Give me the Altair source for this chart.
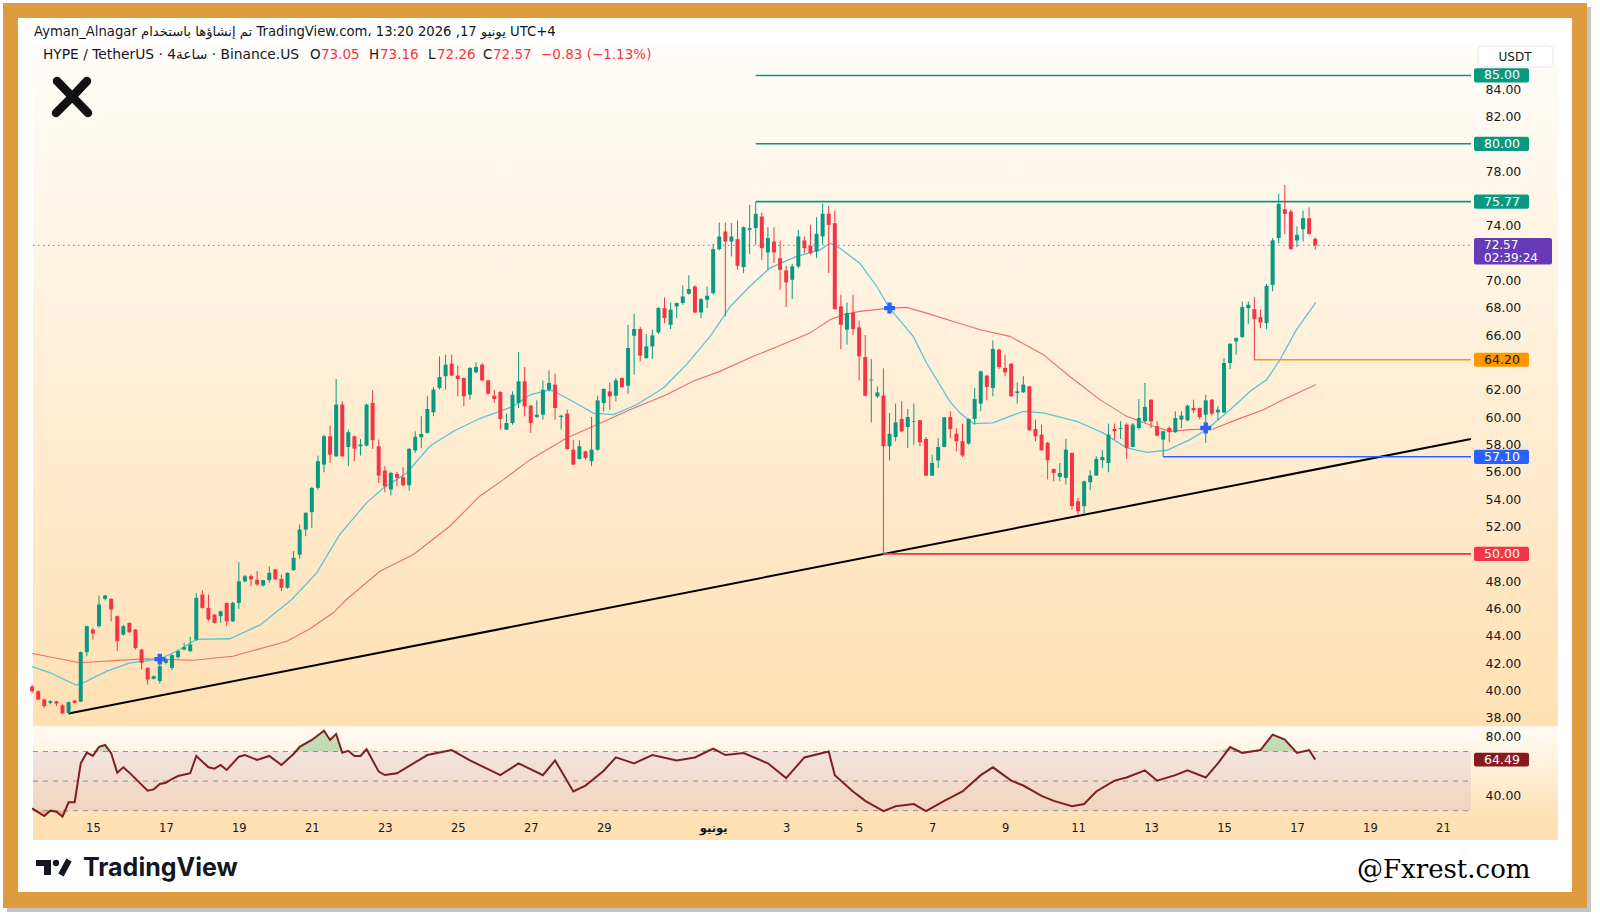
import altair as alt
import pandas as pd

# ---------------- HYPE / USDT, 4h candles (index 0 = 13 May, 08:00) ----------------
opens = [40.3, 39.95, 39.35, 39.1, 39.22, 38.91, 38.35, 39.27, 39.2, 42.81,
         44.46, 44.71, 46.71, 46.71, 45.44, 44.1, 44.95, 44.46, 43.0, 41.66,
         40.86, 40.69, 42.03, 41.66, 42.44, 43.0, 42.88, 43.73, 47.02, 46.05,
         45.56, 45.44, 46.41, 45.07, 46.41, 47.99, 48.37, 48.1, 47.69, 48.08,
         48.86, 48.17, 47.52, 48.81, 49.95, 51.78, 53.05, 54.83, 56.53, 58.6,
         57.14, 60.92, 57.82, 58.6, 57.87, 57.92, 61.04, 57.87, 56.09, 54.7,
         55.85, 55.61, 55.02, 57.56, 58.53, 58.85, 60.36, 62.14, 62.99, 63.92,
         63.04, 62.87, 61.65, 63.28, 63.84, 62.69, 61.57, 61.84, 59.09, 59.57,
         61.04, 62.62, 60.84, 60.01, 60.18, 62.01, 62.38, 60.01, 60.26, 57.62,
         56.94, 57.5, 56.77, 57.62, 61.04, 61.89, 61.57, 62.86, 62.3, 65.96,
         66.45, 64.33, 65.18, 66.2, 67.98, 66.76, 68.1, 68.35, 69.03, 69.56,
         67.66, 68.59, 69.08, 72.29, 73.58, 72.85, 73.02, 70.98, 73.71, 73.83,
         74.68, 72.05, 72.85, 71.63, 70.73, 70.05, 71.03, 72.93, 72.54, 72.12,
         73.22, 74.88, 74.19, 68.1, 66.4, 67.66, 66.57, 64.4, 62.69, 61.52,
         61.57, 57.87, 58.55, 59.87, 59.28, 59.65, 59.77, 58.4, 55.72, 56.84,
         57.82, 60.01, 58.79, 58.24, 58.07, 59.87, 60.99, 63.04, 62.14, 64.94,
         63.6, 63.91, 61.77, 61.82, 62.26, 59.14, 58.72, 58.12, 56.21, 55.63,
         55.56, 57.38, 53.85, 53.49, 55.24, 55.73, 56.85, 56.65, 59.14, 59.14,
         59.46, 57.82, 59.21, 59.7, 61.28, 59.33, 58.36, 59.21, 58.9, 59.82,
         59.77, 60.67, 60.67, 60.18, 61.28, 60.35, 60.35, 63.96, 65.54, 65.86,
         67.98, 67.9, 67.32, 66.88, 69.68, 73.1, 75.21, 75.04, 72.93, 73.75,
         74.56, 73.05]
highs = [40.45, 40.0, 39.4, 39.3, 39.25, 39.0, 39.2, 39.3, 42.85, 44.75,
         44.58, 46.95, 47.0, 46.75, 45.5, 44.8, 45.0, 44.5, 43.05, 41.7,
         41.1, 42.3, 42.4, 42.65, 43.0, 43.49, 43.93, 47.14, 47.34, 47.02,
         45.6, 45.85, 46.45, 46.5, 49.39, 48.45, 48.49, 48.74, 48.1, 49.1,
         48.9, 48.49, 48.65, 50.2, 52.15, 53.05, 54.9, 57.19, 58.73, 59.38,
         62.79, 61.16, 59.09, 58.65, 58.41, 61.0, 61.97, 58.36, 56.41, 56.0,
         55.99, 56.34, 57.75, 58.97, 60.07, 61.53, 62.21, 64.45, 64.57, 64.57,
         63.77, 62.9, 63.65, 64.01, 63.96, 62.75, 62.01, 61.9, 60.26, 61.89,
         64.76, 63.67, 60.9, 61.23, 62.69, 63.42, 63.18, 60.18, 60.55, 58.31,
         58.31, 57.55, 60.01, 61.57, 62.1, 62.55, 62.86, 62.9, 66.76, 67.57,
         66.59, 66.1, 66.4, 68.05, 68.76, 68.39, 68.4, 69.64, 70.39, 69.64,
         68.7, 69.56, 72.68, 74.24, 74.24, 74.19, 74.39, 73.95, 75.53, 75.77,
         74.97, 73.9, 73.9, 72.93, 71.07, 71.22, 73.71, 73.22, 74.07, 74.63,
         75.61, 75.46, 75.12, 68.95, 68.39, 68.95, 67.08, 66.01, 64.25, 62.25,
         63.57, 60.3, 60.99, 61.16, 60.6, 60.99, 59.8, 58.55, 57.26, 58.48,
         60.01, 60.43, 59.21, 59.53, 59.9, 62.14, 63.4, 63.1, 65.62, 65.0,
         64.57, 63.96, 62.55, 62.99, 62.3, 59.82, 59.46, 58.2, 56.25, 56.65,
         58.41, 57.43, 54.09, 55.35, 56.12, 57.14, 57.58, 59.53, 59.53, 59.7,
         59.58, 59.58, 61.33, 62.5, 61.3, 59.7, 59.0, 59.33, 60.43, 60.43,
         60.91, 61.28, 60.7, 61.64, 61.33, 60.79, 64.32, 65.4, 65.85, 68.47,
         68.47, 68.78, 67.86, 69.76, 73.1, 76.34, 76.99, 75.21, 73.95, 75.12,
         75.36, 73.16]
lows = [39.8, 39.3, 38.74, 39.0, 38.86, 38.3, 38.3, 39.05, 39.15, 42.51,
        43.73, 44.6, 46.6, 45.07, 42.88, 44.0, 44.2, 43.0, 41.54, 40.44,
        40.8, 40.5, 41.9, 41.5, 42.35, 42.95, 42.8, 43.6, 46.0, 45.1,
        44.9, 44.95, 44.71, 45.0, 45.97, 47.9, 47.64, 47.64, 47.6, 47.88,
        48.1, 47.27, 47.45, 48.75, 49.64, 51.29, 51.9, 54.7, 55.97, 56.65,
        57.09, 57.09, 56.41, 56.78, 57.19, 57.85, 57.68, 55.19, 54.51, 54.27,
        54.95, 54.95, 54.63, 57.39, 57.75, 58.8, 60.07, 62.02, 62.02, 62.99,
        61.53, 60.8, 61.28, 63.2, 62.62, 61.65, 61.04, 59.09, 59.05, 59.45,
        60.67, 60.06, 58.84, 59.94, 59.82, 61.89, 59.82, 59.09, 57.62, 56.5,
        56.89, 56.89, 56.41, 57.55, 60.43, 60.55, 61.16, 62.15, 61.72, 63.11,
        64.08, 64.25, 64.25, 66.1, 66.88, 66.45, 67.25, 68.22, 68.96, 67.61,
        67.25, 67.98, 68.96, 72.2, 67.37, 71.76, 70.78, 70.54, 71.95, 72.61,
        71.51, 70.78, 71.27, 69.32, 68.05, 68.64, 70.9, 72.0, 71.88, 71.63,
        72.61, 70.54, 67.86, 64.98, 65.3, 66.01, 62.69, 61.52, 59.62, 61.4,
        50.0, 56.84, 58.23, 58.89, 57.75, 57.99, 57.87, 55.7, 55.7, 56.28,
        57.8, 58.48, 57.5, 57.09, 58.0, 59.46, 60.43, 61.23, 61.53, 63.52,
        62.99, 61.48, 60.99, 61.77, 59.0, 58.24, 57.51, 55.44, 55.31, 55.31,
        55.07, 53.24, 52.88, 52.88, 54.66, 55.7, 56.29, 55.97, 58.36, 58.41,
        56.95, 57.8, 59.09, 59.58, 59.21, 58.6, 57.1, 58.16, 58.85, 59.21,
        59.7, 60.3, 59.86, 58.11, 60.11, 59.77, 60.3, 63.52, 64.57, 65.79,
        66.83, 64.2, 66.52, 66.44, 69.2, 72.73, 73.41, 72.25, 72.44, 72.85,
        73.34, 72.26]
closes = [39.95, 39.35, 38.86, 39.22, 39.05, 38.32, 39.15, 39.1, 42.81, 44.71,
          44.17, 46.29, 46.95, 45.93, 43.61, 44.71, 44.27, 43.12, 42.03, 40.81,
          41.05, 41.78, 42.27, 42.59, 42.88, 43.17, 43.37, 46.78, 46.05, 45.19,
          44.95, 45.8, 45.07, 46.41, 47.99, 48.36, 48.13, 47.76, 48.08, 48.61,
          48.13, 47.52, 48.61, 49.71, 51.78, 53.0, 54.83, 56.78, 58.6, 57.26,
          60.92, 57.14, 58.9, 57.7, 58.0, 60.92, 58.31, 55.73, 54.95, 55.92,
          55.56, 55.02, 57.68, 58.56, 58.77, 60.6, 62.02, 62.94, 63.84, 63.04,
          62.79, 61.53, 63.6, 63.67, 62.69, 61.72, 61.33, 59.87, 59.57, 61.64,
          62.62, 60.79, 59.57, 60.18, 62.01, 62.5, 60.67, 60.11, 57.67, 56.53,
          57.87, 57.01, 57.62, 61.23, 62.06, 61.52, 62.69, 62.2, 65.06, 66.45,
          64.5, 65.18, 65.98, 67.98, 67.25, 67.86, 68.35, 68.83, 69.37, 67.66,
          68.64, 68.88, 72.29, 73.22, 72.85, 73.22, 71.07, 73.9, 73.83, 74.88,
          72.37, 73.1, 72.05, 70.78, 69.86, 71.03, 73.22, 72.37, 72.0, 73.41,
          74.88, 74.07, 67.91, 66.76, 67.61, 66.45, 64.45, 61.57, 62.74, 61.81,
          57.87, 58.79, 59.62, 58.96, 60.01, 59.7, 58.16, 55.72, 56.65, 57.82,
          59.99, 59.13, 58.23, 57.19, 59.87, 61.33, 63.35, 62.21, 64.99, 63.67,
          63.28, 61.53, 61.89, 62.38, 59.04, 58.6, 57.58, 56.85, 55.92, 55.92,
          57.63, 53.49, 53.12, 55.31, 55.73, 56.95, 57.09, 58.72, 58.97, 59.21,
          57.75, 59.46, 59.94, 60.75, 59.7, 58.65, 58.97, 58.9, 59.94, 60.11,
          60.84, 60.5, 60.01, 61.23, 60.25, 60.55, 63.96, 65.37, 65.79, 68.05,
          68.22, 67.17, 66.93, 69.61, 72.93, 75.6, 74.87, 72.29, 73.34, 74.56,
          73.41, 72.57]

CANDLES_PER_DAY = 6
FIRST_DAY = -10 / 6  # first candle, in days relative to 15 May 00:00

# ---------------- moving averages (candle index, value) ----------------
ema_fast_idx = [0, 3, 7.2, 8.4, 12.3, 16.1, 21, 24.3, 27, 32.5, 37.5, 42.7, 46.8,
                50.6, 55, 57.8, 61.6, 65.4, 69.3, 73.6, 79.1, 81.9, 85.2, 87.9,
                92.3, 95.6, 99.4, 103.8, 107.6, 111.5, 113.1, 114.8, 118, 121.3,
                125.7, 129.6, 131.2, 132.8, 136.1, 138.9, 141, 144.9, 147.1,
                150.9, 152.6, 154.8, 158, 163, 166.3, 171.8, 176.1, 180, 183.3,
                186.6, 190.4, 193.1, 197, 200.3, 203, 205.2, 207.9, 211.1]
ema_fast_val = [41.75, 41.3, 40.4, 40.56, 41.42, 42.03, 42.3, 43.0, 43.75, 43.79,
                44.8, 46.66, 48.61, 51.42, 53.73, 54.83, 55.92, 57.87, 58.97,
                59.9, 60.79, 61.64, 62.01, 61.4, 60.3, 60.18, 60.91, 62.13, 63.84,
                65.91, 66.95, 68.1, 69.56, 70.9, 71.76, 72.24, 72.73, 72.37, 71.27,
                69.56, 67.98, 65.91, 63.96, 61.16, 60.3, 59.53, 59.58, 60.43,
                60.31, 59.7, 58.85, 57.75, 57.43, 57.58, 58.36, 59.08, 60.55,
                61.89, 62.74, 64.2, 66.39, 68.39]
ema_slow_idx = [0, 7.9, 18.3, 26.5, 33, 41.9, 45.7, 49.5, 51.7, 57.2, 62.7, 68.7,
                73.6, 77.5, 81.9, 87.9, 92.3, 98.3, 104.3, 108.7, 113.1, 118.6,
                124, 127.9, 131.2, 133.4, 136.1, 141, 143.8, 147.1, 151.5, 155.9,
                160.8, 166.3, 170.6, 175.6, 180, 184.4, 187.1, 190.4, 194.2,
                198.1, 202.5, 205.7, 211.1]
ema_slow_val = [42.71, 42.03, 42.32, 42.22, 42.51, 43.61, 44.52, 45.69, 46.66,
                48.73, 49.95, 52.02, 54.22, 55.43, 56.89, 58.48, 59.33, 60.55,
                61.64, 62.62, 63.35, 64.45, 65.42, 66.15, 67.13, 67.49, 67.74,
                67.98, 68.03, 67.61, 67.0, 66.4, 65.91, 64.57, 62.99, 61.28,
                60.06, 59.33, 58.96, 59.09, 59.13, 59.82, 60.55, 61.28, 62.37]

# crossover markers
cross_idx = [21, 141, 193]
cross_val = [42.3, 67.98, 59.21]

# ---------------- RSI (candle index, value) ----------------
rsi_idx = [0, 2, 3, 4, 5, 6, 7, 8, 9, 10, 11, 12, 13, 14, 15, 16, 19, 20, 21, 22,
           23, 24, 26, 27, 29, 30, 31, 32, 34, 35, 37, 39, 41, 43, 44, 46, 48, 49,
           50, 51, 52, 53, 54, 55, 57, 58, 60, 65, 69, 72, 77, 80, 84, 86, 89,
           91, 94, 96, 99, 102, 106, 109, 112, 114, 117, 121, 124, 127, 131,
           132, 135, 137, 140, 142, 145, 147, 150, 153, 156, 158, 161, 163, 166,
           168, 171, 173, 175, 178, 180, 183, 185, 188, 190, 193, 195, 197, 199,
           202, 204, 206, 208, 210, 211]
rsi_val = [31.6, 26.4, 30.0, 29.3, 26.0, 35.7, 35.7, 62.0, 69.2, 67.0, 73.2, 74.4,
           68.8, 55.7, 59.3, 55.7, 43.5, 44.4, 48.0, 48.9, 51.4, 53.4, 55.3, 67.0,
           59.3, 58.4, 60.9, 57.5, 66.5, 67.6, 64.3, 67.0, 60.9, 68.3, 73.2, 77.8,
           84.1, 77.8, 81.8, 69.2, 70.5, 67.0, 67.0, 71.5, 56.4, 54.1, 55.3,
           67.6, 71.0, 64.0, 54.0, 62.0, 54.0, 64.0, 43.0, 47.0, 57.0, 66.0,
           62.0, 67.6, 64.0, 66.0, 72.0, 67.6, 69.0, 62.0, 52.0, 66.0, 70.0,
           54.0, 43.0, 36.6, 29.7, 33.0, 34.5, 29.7, 36.6, 43.0, 54.0, 59.3,
           50.3, 47.0, 40.0, 36.6, 33.0, 34.5, 43.0, 50.3, 52.4, 57.2, 50.3,
           54.0, 57.2, 52.4, 62.0, 73.0, 69.0, 71.0, 81.4, 78.0, 69.0, 71.0,
           64.49]

# ---------------- horizontal levels and trend line ----------------
level_values = [85.00, 80.00, 75.77, 64.20, 57.10, 50.00]
level_start = [119, 119, 119, 201, 186, 140]
level_colors = ["#089981", "#089981", "#089981", "#FF9800", "#2962FF", "#F23645"]
level_text_colors = ["white", "white", "white", "#131722", "white", "white"]

trend_idx = [6, 236.6]
trend_val = [38.32, 58.4]

# ---------------- axis ticks ----------------
date_tick_days = [0, 2, 4, 6, 8, 10, 12, 14, 17, 19, 21, 23, 25, 27, 29, 31, 33, 35, 37]
date_tick_labels = ["15", "17", "19", "21", "23", "25", "27", "29", "يونيو", "3", "5",
                    "7", "9", "11", "13", "15", "17", "19", "21"]
price_ticks = [38, 40, 42, 44, 46, 48, 52, 54, 56, 58, 60, 62, 66, 68, 70, 74, 78, 82, 84]
rsi_ticks = [40, 80]

LAST_PRICE = closes[-1]
LAST_RSI = rsi_val[-1]
COUNTDOWN = "02:39:24"

# ---------------- layout constants (pixels) ----------------
W, H = 1600, 921
PANE_L, PANE_R, AXIS_R = 33, 1471, 1558
PRICE_TOP, PRICE_BOT = 44, 726.5
RSI_BOT, DATE_BOT = 816, 840
FONT = "DejaVu Sans"
INK = "#131722"

X_DOMAIN = [-1.642, 37.77]
xs = alt.Scale(domain=X_DOMAIN, range=[PANE_L, PANE_R], nice=False, zero=False, padding=0)
ps = alt.Scale(domain=[37.37, 87.3], range=[PRICE_BOT, PRICE_TOP], nice=False, zero=False,
               padding=0)
rs = alt.Scale(domain=[26.4, 86.9], range=[RSI_BOT, PRICE_BOT], nice=False, zero=False,
               padding=0)

labels_js = "[" + ",".join(f"'{s}'" for s in date_tick_labels) + "]"
days_js = "[" + ",".join(str(d) for d in date_tick_days) + "]"
x_axis = alt.Axis(
    values=date_tick_days, labelExpr=f"{labels_js}[indexof({days_js}, datum.value)]",
    orient="bottom", offset=RSI_BOT - H, domain=False, ticks=False, grid=False,
    labelPadding=6, labelFontSize=11.5, labelFont=FONT, labelColor=INK, title=None,
    labelFlush=False, labelOverlap=False, zindex=1,
    labelFontWeight={"condition": {"test": "datum.value == 17", "value": "bold"},
                     "value": "normal"},
)


def y_axis(values):
    return alt.Axis(values=values, format=".2f", orient="right", offset=PANE_R - W,
                    domain=False, ticks=False, grid=False, labelPadding=14,
                    labelAlign="left", labelFontSize=12.5, labelFont=FONT,
                    labelColor=INK, title=None, labelOverlap=False, labelFlush=False,
                    zindex=1)


def X(field):
    return alt.X(field, type="quantitative", scale=xs, axis=x_axis)


def PY(field, axis=None):
    return alt.Y(field, type="quantitative", scale=ps, axis=axis)


def RY(field, axis=None):
    return alt.Y(field, type="quantitative", scale=rs, axis=axis)


one = alt.Data(values=[{"k": 1}])


def box(x1, x2, y1, y2, **mark):
    return alt.Chart(one).mark_rect(**mark).encode(
        x=alt.value(x1), x2=alt.value(x2), y=alt.value(y1), y2=alt.value(y2))


def label(txt, x, y, size=12, color=INK, weight="normal", font=FONT, align="left"):
    return alt.Chart(one).mark_text(
        align=align, baseline="middle", fontSize=size, font=font, fontWeight=weight,
        color=color).encode(x=alt.value(x), y=alt.value(y), text=alt.value(txt))


def stroke(x1, y1, x2, y2, width, color="#111111", cap="round"):
    return alt.Chart(one).mark_rule(strokeWidth=width, color=color, strokeCap=cap).encode(
        x=alt.value(x1), y=alt.value(y1), x2=alt.value(x2), y2=alt.value(y2))


def grad(top, bottom):
    return alt.Gradient(gradient="linear", x1=0, y1=0, x2=0, y2=1,
                        stops=[alt.GradientStop(offset=0, color=top),
                               alt.GradientStop(offset=1, color=bottom)])


# ---------------- tables ----------------
n = len(closes)
candles = pd.DataFrame({
    "day": [FIRST_DAY + i / CANDLES_PER_DAY for i in range(n)],
    "open": opens, "high": highs, "low": lows, "close": closes,
    "dir": ["up" if c >= o else "down" for o, c in zip(opens, closes)],
})
fast = pd.DataFrame({"day": [FIRST_DAY + i / CANDLES_PER_DAY for i in ema_fast_idx],
                     "v": ema_fast_val})
slow = pd.DataFrame({"day": [FIRST_DAY + i / CANDLES_PER_DAY for i in ema_slow_idx],
                     "v": ema_slow_val})
crosses = pd.DataFrame({"day": [FIRST_DAY + i / CANDLES_PER_DAY for i in cross_idx],
                        "v": cross_val})
trend = pd.DataFrame({"day": [FIRST_DAY + i / CANDLES_PER_DAY for i in trend_idx],
                      "v": trend_val})
levels = pd.DataFrame({
    "start": [FIRST_DAY + i / CANDLES_PER_DAY for i in level_start],
    "end": [X_DOMAIN[1]] * len(level_values),
    "value": level_values,
    "label": [f"{v:.2f}" for v in level_values],
    "color": level_colors, "tcolor": level_text_colors,
})
rsi = pd.DataFrame({"day": [FIRST_DAY + i / CANDLES_PER_DAY for i in rsi_idx],
                    "rsi": rsi_val})
rsi_guides = pd.DataFrame({"v": [70, 50, 30]})
last = pd.DataFrame({"p": [LAST_PRICE], "start": [X_DOMAIN[0]], "end": [X_DOMAIN[1]],
                     "txt": [f"{LAST_PRICE:.2f}"], "cd": [COUNTDOWN]})
last_rsi = pd.DataFrame({"r": [LAST_RSI], "txt": [f"{LAST_RSI:.2f}"]})

dir_scale = alt.Scale(domain=["up", "down"], range=["#089981", "#F23645"])

layers = [
    # frame
    box(7, 1591, 7, 912, color="#c4c4c4"),
    box(3, 1587, 3, 908, color="#DE9C3E"),
    box(18, 1572, 18, 892, color="#ffffff"),
    # pane backgrounds
    box(PANE_L, AXIS_R, PRICE_TOP, PRICE_BOT, fill=grad("#fffdfa", "#ffe0b3")),
    box(PANE_L, AXIS_R, PRICE_BOT, RSI_BOT, fill=grad("#fffbf5", "#ffe2b8")),
    box(PANE_L, AXIS_R, RSI_BOT, DATE_BOT, color="#ffe0b2"),

    # RSI pane
    alt.Chart(one).mark_rect(color="#7E57C2", opacity=0.1).encode(
        x=alt.value(PANE_L), x2=alt.value(PANE_R),
        y=alt.Y(datum=70, scale=rs, axis=None), y2=alt.Y2(datum=30)),
    alt.Chart(rsi_guides).mark_rule(color="#8f929b", strokeDash=[5, 5], strokeWidth=1).encode(
        x=alt.value(PANE_L), x2=alt.value(PANE_R), y=RY("v")),
    alt.Chart(rsi).transform_calculate(ob="max(datum.rsi, 70)").mark_area(
        color="#4CAF50", opacity=0.35).encode(
        x=X("day"), y=RY("ob:Q"), y2=alt.Y2(datum=70)),
    alt.Chart(rsi).transform_calculate(os="min(datum.rsi, 30)").mark_area(
        color="#F23645", opacity=0.3).encode(
        x=X("day"), y=RY("os:Q"), y2=alt.Y2(datum=30)),
    alt.Chart(rsi).mark_line(color="#7E1F23", strokeWidth=2).encode(
        x=X("day"), y=RY("rsi", y_axis(rsi_ticks))),

    # price pane
    alt.Chart(last).mark_rule(color="#8e6fcf", strokeDash=[1.5, 3.5], strokeWidth=1).encode(
        x=X("start"), x2="end", y=PY("p")),
    alt.Chart(trend).mark_line(color="#000000", strokeWidth=2).encode(
        x=X("day"), y=PY("v")),
    alt.Chart(levels).mark_rule(strokeWidth=1.6).encode(
        x=X("start"), x2="end", y=PY("value"), color=alt.Color("color:N", scale=None)),
    alt.Chart(slow).mark_line(color="#F26B6B", strokeWidth=1.1).encode(
        x=X("day"), y=PY("v")),
    alt.Chart(fast).mark_line(color="#56C6D6", strokeWidth=1.3).encode(
        x=X("day"), y=PY("v")),
    alt.Chart(candles).mark_rule(strokeWidth=1).encode(
        x=X("day"), y=PY("low", y_axis(price_ticks)), y2="high",
        color=alt.Color("dir:N", scale=dir_scale, legend=None)),
    alt.Chart(candles).mark_bar(size=4).encode(
        x=X("day"), y=PY("open"), y2="close",
        color=alt.Color("dir:N", scale=dir_scale, legend=None)),
    alt.Chart(crosses).mark_point(shape="cross", filled=True, size=120, opacity=1,
                                  color="#2962FF").encode(x=X("day"), y=PY("v")),

    # price tags on the scales
    alt.Chart(levels).transform_calculate(
        top="datum.value + 0.52", bot="datum.value - 0.52").mark_rect(cornerRadius=2).encode(
        x=alt.value(1474), x2=alt.value(1529), y=PY("top:Q"), y2="bot:Q",
        color=alt.Color("color:N", scale=None)),
    alt.Chart(levels).mark_text(fontSize=12.5, font=FONT, align="center",
                                baseline="middle").encode(
        x=alt.value(1502), y=PY("value"), text="label:N",
        color=alt.Color("tcolor:N", scale=None)),
    alt.Chart(last).transform_calculate(
        top="datum.p + 0.53", bot="datum.p - 1.4").mark_rect(
        cornerRadius=2, color="#673AB7").encode(
        x=alt.value(1474), x2=alt.value(1552), y=PY("top:Q"), y2="bot:Q"),
    alt.Chart(last).mark_text(fontSize=12, font=FONT, align="left", baseline="middle",
                              color="white").encode(
        x=alt.value(1484), y=PY("p"), text="txt:N"),
    alt.Chart(last).transform_calculate(p2="datum.p - 0.92").mark_text(
        fontSize=12, font=FONT, align="left", baseline="middle", color="white").encode(
        x=alt.value(1484), y=PY("p2:Q"), text="cd:N"),
    alt.Chart(last_rsi).transform_calculate(
        top="datum.r + 4.7", bot="datum.r - 4.7").mark_rect(
        cornerRadius=2, color="#861B1E").encode(
        x=alt.value(1474), x2=alt.value(1529), y=RY("top:Q"), y2="bot:Q"),
    alt.Chart(last_rsi).mark_text(fontSize=12.5, font=FONT, align="center",
                                  baseline="middle", color="white").encode(
        x=alt.value(1502), y=RY("r"), text="txt:N"),

    # currency box
    box(1478, 1553, 46, 67, color="#ffffff", stroke="#e6e6e6", strokeWidth=1,
        cornerRadius=4),
    label("USDT", 1515, 57, size=12, align="center"),

    # header lines
    label("Ayman_Alnagar تم إنشاؤها باستخدام TradingView.com، 13:20 2026 ,17 يونيو UTC+4",
          34, 32, size=13.2),
    label("HYPE / TetherUS · 4ساعة · Binance.US", 43, 54.5, size=13.8),
    label("O", 310, 54.5, size=13.5),
    label("73.05", 321, 54.5, size=13.5, color="#F23645"),
    label("H", 369, 54.5, size=13.5),
    label("73.16", 380, 54.5, size=13.5, color="#F23645"),
    label("L", 428, 54.5, size=13.5),
    label("72.26", 437, 54.5, size=13.5, color="#F23645"),
    label("C", 483, 54.5, size=13.5),
    label("72.57", 493, 54.5, size=13.5, color="#F23645"),
    label("−0.83 (−1.13%)", 541, 54.5, size=13.5, color="#F23645"),

    # "X" mark in the corner
    stroke(57, 81, 88, 113, 8.5),
    stroke(87, 81, 72, 97, 8.5),
    stroke(70, 99, 56, 113, 8.5),

    # TradingView wordmark
    box(36, 51, 860, 866, color="#131722"),
    box(44, 51, 860, 875, color="#131722"),
    alt.Chart(one).mark_point(filled=True, size=40, color="#131722", opacity=1).encode(
        x=alt.value(56), y=alt.value(863)),
    stroke(61, 875, 69, 860, 6, color="#131722", cap="butt"),
    label("TradingView", 83, 868, size=25, weight="bold", font="Inter"),

    # site mark
    label("@Fxrest.com", 1357, 870, size=26, color="#000000", font="DejaVu Serif"),
]

chart = alt.layer(*layers).resolve_scale(y="independent").properties(
    width=W, height=H, padding=0, background="#ffffff",
    autosize=alt.AutoSizeParams(type="none"),
).configure_view(stroke=None)

chart.save("out.html", embed_options={"renderer": "svg", "actions": False})
